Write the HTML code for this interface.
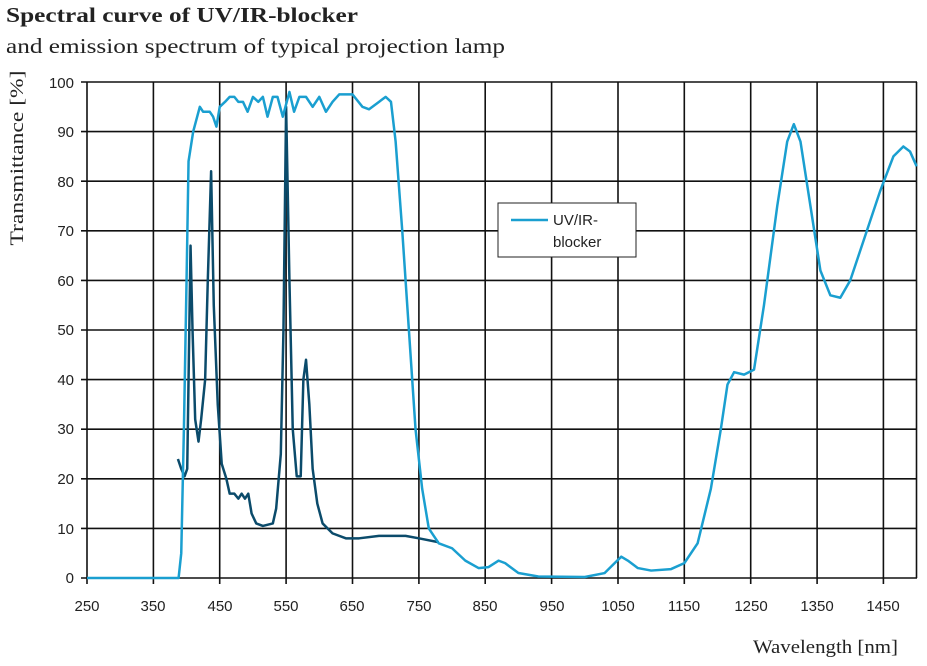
<!DOCTYPE html>
<html><head><meta charset="utf-8"><style>
body{margin:0;background:#fff;}
svg{display:block;}
.s{font-family:"Liberation Sans",sans-serif;font-size:15px;fill:#222;}
.f{font-family:"Liberation Serif",serif;fill:#222;}
</style></head><body>
<svg width="927" height="666" viewBox="0 0 927 666" xmlns="http://www.w3.org/2000/svg">
<rect width="927" height="666" fill="#fff"/>
<text x="6" y="22" class="f" font-size="21" font-weight="bold" textLength="352" lengthAdjust="spacingAndGlyphs">Spectral curve of UV/IR-blocker</text>
<text x="6" y="53" class="f" font-size="21" textLength="499" lengthAdjust="spacingAndGlyphs">and emission spectrum of typical projection lamp</text>
<text class="f" font-size="19" transform="translate(23,158) rotate(-90)" text-anchor="middle" textLength="175" lengthAdjust="spacingAndGlyphs">Transmittance [%]</text>
<text x="753" y="653" class="f" font-size="19" textLength="145" lengthAdjust="spacingAndGlyphs">Wavelength [nm]</text>
<g stroke="#111" stroke-width="1.6">
<line x1="81" y1="82" x2="917" y2="82"/>
<line x1="81" y1="131.6" x2="917" y2="131.6"/>
<line x1="81" y1="181.2" x2="917" y2="181.2"/>
<line x1="81" y1="230.8" x2="917" y2="230.8"/>
<line x1="81" y1="280.4" x2="917" y2="280.4"/>
<line x1="81" y1="330" x2="917" y2="330"/>
<line x1="81" y1="379.6" x2="917" y2="379.6"/>
<line x1="81" y1="429.2" x2="917" y2="429.2"/>
<line x1="81" y1="478.8" x2="917" y2="478.8"/>
<line x1="81" y1="528.4" x2="917" y2="528.4"/>
<line x1="81" y1="578" x2="917" y2="578"/>
<line x1="87" y1="82" x2="87" y2="584"/>
<line x1="153.4" y1="82" x2="153.4" y2="584"/>
<line x1="219.7" y1="82" x2="219.7" y2="584"/>
<line x1="286.1" y1="82" x2="286.1" y2="584"/>
<line x1="352.5" y1="82" x2="352.5" y2="584"/>
<line x1="418.9" y1="82" x2="418.9" y2="584"/>
<line x1="485.2" y1="82" x2="485.2" y2="584"/>
<line x1="551.6" y1="82" x2="551.6" y2="584"/>
<line x1="618" y1="82" x2="618" y2="584"/>
<line x1="684.3" y1="82" x2="684.3" y2="584"/>
<line x1="750.7" y1="82" x2="750.7" y2="584"/>
<line x1="817.1" y1="82" x2="817.1" y2="584"/>
<line x1="883.4" y1="82" x2="883.4" y2="584"/>
<line x1="916.5" y1="82" x2="916.5" y2="578"/>
</g>
<g class="s" text-anchor="end">
<text x="74" y="88">100</text><text x="74" y="137">90</text><text x="74" y="187">80</text>
<text x="74" y="236">70</text><text x="74" y="286">60</text><text x="74" y="335">50</text>
<text x="74" y="385">40</text><text x="74" y="434">30</text><text x="74" y="484">20</text>
<text x="74" y="534">10</text><text x="74" y="583">0</text>
</g>
<g class="s" text-anchor="middle">
<text x="87" y="611">250</text><text x="153" y="611">350</text><text x="220" y="611">450</text>
<text x="286" y="611">550</text><text x="352" y="611">650</text><text x="419" y="611">750</text>
<text x="485" y="611">850</text><text x="552" y="611">950</text><text x="618" y="611">1050</text>
<text x="684" y="611">1150</text><text x="751" y="611">1250</text><text x="817" y="611">1350</text>
<text x="883" y="611">1450</text>
</g>
<g transform="translate(87,578) scale(0.6637,-4.96) translate(-250,0)" fill="none" stroke-linejoin="round">
<polyline vector-effect="non-scaling-stroke" stroke="#0b4b6b" stroke-width="2.5" points="387,24 392,22 397,20.5 401,22 403,40 406,67 409,50 413,32 418,27.5 422,32 428,40 432,60 437,82 441,55 447,35 453,23 460,20 465,17 472,17 478,16 483,17 488,16 493,17 498,13 505,11 515,10.5 530,11 535,14 542,25 546,50 550,95 555,60 560,30 566,20.5 572,20.5 576,40 580,44 585,35 590,22 597,15 605,11 620,9 640,8 660,8 690,8.5 730,8.5 750,8 780,7.2"/>
<polyline vector-effect="non-scaling-stroke" stroke="#1a9fd0" stroke-width="2.5" points="250,0 388,0 392,5 396,30 400,60 403,84 410,90 420,95 425,94 435,94 440,93 445,91 450,95 458,96 465,97 472,97 478,96 485,96 492,94 500,97 508,96 515,97 522,93 530,97 537,97 545,93 555,98 562,94 570,97 580,97 590,95 600,97 610,94 620,96 630,97.5 650,97.5 665,95 675,94.5 690,96 700,97 708,96 715,88 725,70 735,50 745,30 755,18 765,10 780,7 800,6 820,3.5 840,2 855,2.2 870,3.5 880,3 900,1 930,0.3 1000,0.2 1030,1 1045,3 1055,4.3 1065,3.5 1080,2 1100,1.5 1130,1.8 1150,3 1170,7 1190,18 1205,30 1215,39 1225,41.5 1240,41 1255,42 1270,55 1290,75 1305,88 1315,91.5 1325,88 1340,75 1355,62 1370,57 1385,56.5 1400,60 1420,68 1445,78 1465,85 1480,87 1490,86 1500,83"/>
</g>
<rect x="498" y="203" width="138" height="54" fill="#fff" stroke="#222" stroke-width="1"/>
<line x1="511" y1="220" x2="548" y2="220" stroke="#1a9fd0" stroke-width="2.5"/>
<text x="553" y="225" class="s">UV/IR-</text>
<text x="553" y="247" class="s">blocker</text>
</svg>
</body></html>
